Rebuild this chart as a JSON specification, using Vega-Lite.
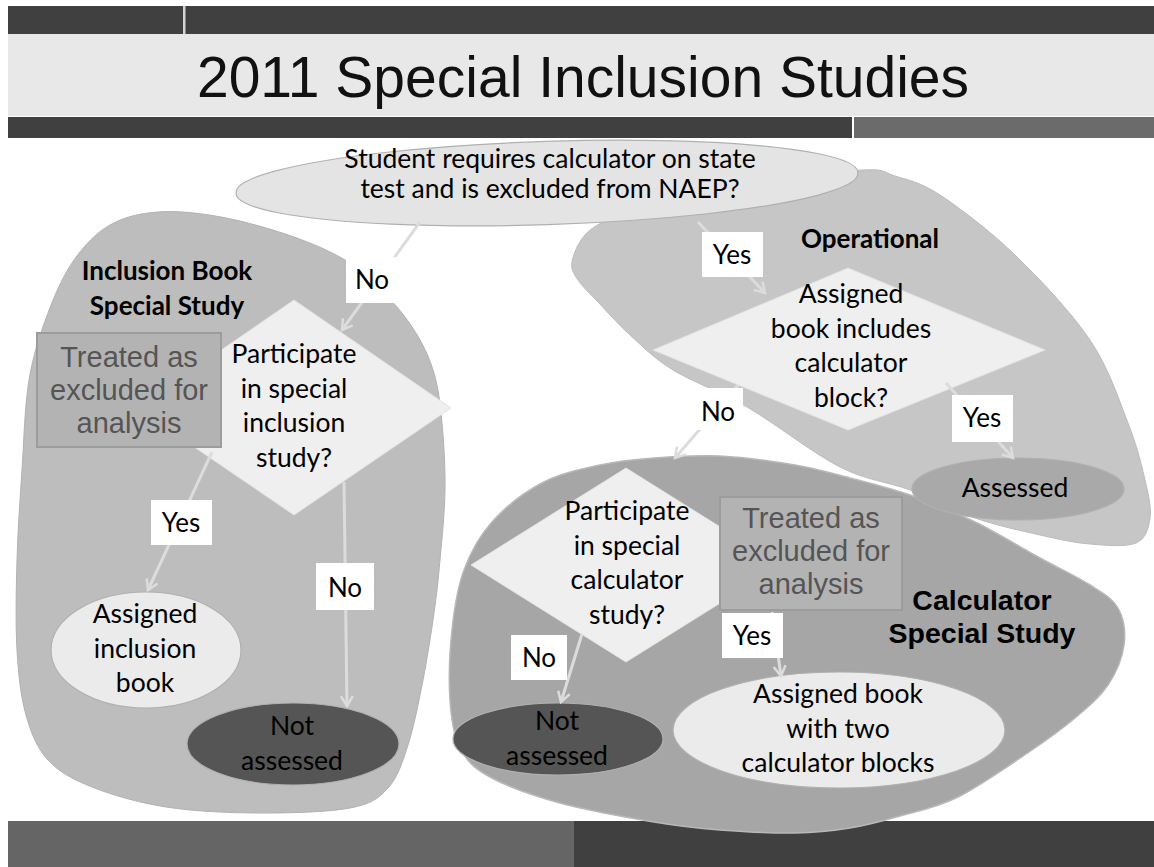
{
  "$schema": "https://vega.github.io/schema/vega-lite/v6.json",
  "width": 1154,
  "height": 867,
  "padding": 0,
  "autosize": "none",
  "background": "#ffffff",
  "config": {"view": {"stroke": null}},
  "datasets": {
    "rects": [
      {"x": 8, "x2": 1154, "y": 6, "y2": 34, "tone": "dark"},
      {"x": 183, "x2": 185.5, "y": 6, "y2": 34, "tone": "sep"},
      {"x": 8, "x2": 1154, "y": 34, "y2": 116, "tone": "band"},
      {"x": 8, "x2": 852, "y": 117, "y2": 138, "tone": "dark"},
      {"x": 854, "x2": 1154, "y": 117, "y2": 138, "tone": "mid"},
      {"x": 8, "x2": 574, "y": 821, "y2": 867, "tone": "bottom"},
      {"x": 574, "x2": 1154, "y": 821, "y2": 867, "tone": "dark"}
    ],
    "blobs": [
      {"shape": "L", "i": 0, "x": 158, "y": 212},
      {"shape": "L", "i": 1, "x": 221, "y": 217},
      {"shape": "L", "i": 2, "x": 294, "y": 237},
      {"shape": "L", "i": 3, "x": 350, "y": 263},
      {"shape": "L", "i": 4, "x": 388, "y": 297},
      {"shape": "L", "i": 5, "x": 416, "y": 333},
      {"shape": "L", "i": 6, "x": 434, "y": 373},
      {"shape": "L", "i": 7, "x": 442, "y": 423},
      {"shape": "L", "i": 8, "x": 445, "y": 490},
      {"shape": "L", "i": 9, "x": 440, "y": 560},
      {"shape": "L", "i": 10, "x": 434, "y": 613},
      {"shape": "L", "i": 11, "x": 423, "y": 680},
      {"shape": "L", "i": 12, "x": 408, "y": 745},
      {"shape": "L", "i": 13, "x": 388, "y": 788},
      {"shape": "L", "i": 14, "x": 350, "y": 808},
      {"shape": "L", "i": 15, "x": 258, "y": 813},
      {"shape": "L", "i": 16, "x": 166, "y": 807},
      {"shape": "L", "i": 17, "x": 92, "y": 787},
      {"shape": "L", "i": 18, "x": 48, "y": 760},
      {"shape": "L", "i": 19, "x": 26, "y": 715},
      {"shape": "L", "i": 20, "x": 17, "y": 650},
      {"shape": "L", "i": 21, "x": 17, "y": 560},
      {"shape": "L", "i": 22, "x": 22, "y": 470},
      {"shape": "L", "i": 23, "x": 29, "y": 380},
      {"shape": "L", "i": 24, "x": 48, "y": 313},
      {"shape": "L", "i": 25, "x": 74, "y": 260},
      {"shape": "L", "i": 26, "x": 110, "y": 225},
      {"shape": "C", "i": 0, "x": 542, "y": 483},
      {"shape": "C", "i": 1, "x": 600, "y": 465},
      {"shape": "C", "i": 2, "x": 654, "y": 458},
      {"shape": "C", "i": 3, "x": 720, "y": 456},
      {"shape": "C", "i": 4, "x": 795, "y": 465},
      {"shape": "C", "i": 5, "x": 850, "y": 478},
      {"shape": "C", "i": 6, "x": 910, "y": 495},
      {"shape": "C", "i": 7, "x": 975, "y": 522},
      {"shape": "C", "i": 8, "x": 1040, "y": 558},
      {"shape": "C", "i": 9, "x": 1090, "y": 585},
      {"shape": "C", "i": 10, "x": 1118, "y": 608},
      {"shape": "C", "i": 11, "x": 1124, "y": 645},
      {"shape": "C", "i": 12, "x": 1108, "y": 685},
      {"shape": "C", "i": 13, "x": 1075, "y": 718},
      {"shape": "C", "i": 14, "x": 1029, "y": 752},
      {"shape": "C", "i": 15, "x": 958, "y": 797},
      {"shape": "C", "i": 16, "x": 900, "y": 816},
      {"shape": "C", "i": 17, "x": 850, "y": 828},
      {"shape": "C", "i": 18, "x": 795, "y": 833},
      {"shape": "C", "i": 19, "x": 720, "y": 830},
      {"shape": "C", "i": 20, "x": 654, "y": 822},
      {"shape": "C", "i": 21, "x": 560, "y": 803},
      {"shape": "C", "i": 22, "x": 490, "y": 777},
      {"shape": "C", "i": 23, "x": 460, "y": 748},
      {"shape": "C", "i": 24, "x": 450, "y": 700},
      {"shape": "C", "i": 25, "x": 452, "y": 630},
      {"shape": "C", "i": 26, "x": 464, "y": 570},
      {"shape": "C", "i": 27, "x": 492, "y": 522},
      {"shape": "O", "i": 0, "x": 572, "y": 262},
      {"shape": "O", "i": 1, "x": 585, "y": 235},
      {"shape": "O", "i": 2, "x": 612, "y": 218},
      {"shape": "O", "i": 3, "x": 660, "y": 203},
      {"shape": "O", "i": 4, "x": 760, "y": 183},
      {"shape": "O", "i": 5, "x": 863, "y": 170},
      {"shape": "O", "i": 6, "x": 895, "y": 176},
      {"shape": "O", "i": 7, "x": 940, "y": 195},
      {"shape": "O", "i": 8, "x": 1015, "y": 255},
      {"shape": "O", "i": 9, "x": 1090, "y": 340},
      {"shape": "O", "i": 10, "x": 1128, "y": 423},
      {"shape": "O", "i": 11, "x": 1145, "y": 480},
      {"shape": "O", "i": 12, "x": 1150, "y": 518},
      {"shape": "O", "i": 13, "x": 1136, "y": 543},
      {"shape": "O", "i": 14, "x": 1090, "y": 544},
      {"shape": "O", "i": 15, "x": 1040, "y": 535},
      {"shape": "O", "i": 16, "x": 975, "y": 518},
      {"shape": "O", "i": 17, "x": 910, "y": 490},
      {"shape": "O", "i": 18, "x": 840, "y": 467},
      {"shape": "O", "i": 19, "x": 747, "y": 407},
      {"shape": "O", "i": 20, "x": 673, "y": 370},
      {"shape": "O", "i": 21, "x": 630, "y": 335},
      {"shape": "O", "i": 22, "x": 598, "y": 302},
      {"shape": "O", "i": 23, "x": 578, "y": 280}
    ],
    "diamonds": [
      {"shape": "dL", "i": 0, "x": 294, "y": 300},
      {"shape": "dL", "i": 1, "x": 451, "y": 408},
      {"shape": "dL", "i": 2, "x": 294, "y": 515},
      {"shape": "dL", "i": 3, "x": 137, "y": 408},
      {"shape": "dO", "i": 0, "x": 848, "y": 268},
      {"shape": "dO", "i": 1, "x": 1045, "y": 350},
      {"shape": "dO", "i": 2, "x": 848, "y": 430},
      {"shape": "dO", "i": 3, "x": 653, "y": 350},
      {"shape": "dC", "i": 0, "x": 626, "y": 468},
      {"shape": "dC", "i": 1, "x": 781, "y": 565},
      {"shape": "dC", "i": 2, "x": 626, "y": 662},
      {"shape": "dC", "i": 3, "x": 471, "y": 565}
    ],
    "nodes": [
      {"node": "top", "x": 547, "y": 183, "tone": "e_top"},
      {"node": "assessed", "x": 1018, "y": 489, "tone": "e_mid"},
      {"node": "book", "x": 146, "y": 650, "tone": "e_light"},
      {"node": "notL", "x": 293, "y": 744, "tone": "e_dark"},
      {"node": "notR", "x": 558, "y": 739, "tone": "e_dark"},
      {"node": "two", "x": 839, "y": 730, "tone": "e_light"}
    ],
    "boxes": [
      {"x": 37, "x2": 221, "y": 333, "y2": 447},
      {"x": 720, "x2": 902, "y": 497, "y2": 610}
    ],
    "arrows": [
      {"x": 420, "y": 222, "hx": 342, "hy": 330, "angle": 35.8},
      {"x": 698, "y": 222, "hx": 765, "hy": 293, "angle": 316.7},
      {"x": 946, "y": 383, "hx": 1013, "hy": 458, "angle": 318.2},
      {"x": 738, "y": 385, "hx": 675, "hy": 458, "angle": 40.8},
      {"x": 582, "y": 634, "hx": 561, "hy": 702, "angle": 17.2},
      {"x": 772, "y": 612, "hx": 781, "hy": 676, "angle": 352},
      {"x": 212, "y": 452, "hx": 148, "hy": 590, "angle": 24.9},
      {"x": 344, "y": 482, "hx": 347, "hy": 706, "angle": 359.2}
    ],
    "labels": [
      {"label": "No", "x": 346, "x2": 399, "y": 257, "y2": 303, "cx": 372, "by": 289},
      {"label": "Yes", "x": 702, "x2": 763, "y": 232, "y2": 277, "cx": 732, "by": 264},
      {"label": "Yes", "x": 952, "x2": 1013, "y": 395, "y2": 442, "cx": 982, "by": 427},
      {"label": "No", "x": 693, "x2": 743, "y": 388, "y2": 430, "cx": 718, "by": 421},
      {"label": "No", "x": 511, "x2": 567, "y": 635, "y2": 680, "cx": 539, "by": 667},
      {"label": "Yes", "x": 722, "x2": 783, "y": 613, "y2": 658, "cx": 752, "by": 645},
      {"label": "Yes", "x": 151, "x2": 212, "y": 500, "y2": 545, "cx": 181, "by": 532},
      {"label": "No", "x": 316, "x2": 374, "y": 563, "y2": 610, "cx": 345, "by": 597}
    ],
    "texts": [
      {"style": "top", "x": 550, "y": 168, "text": "Student requires calculator on state\ntest and is excluded from NAEP?"},
      {"style": "body", "x": 294, "y": 363, "text": "Participate\nin special\ninclusion\nstudy?"},
      {"style": "body", "x": 851, "y": 303, "text": "Assigned\nbook includes\ncalculator\nblock?"},
      {"style": "body", "x": 627, "y": 520, "text": "Participate\nin special\ncalculator\nstudy?"},
      {"style": "body", "x": 145, "y": 623, "text": "Assigned\ninclusion\nbook"},
      {"style": "body", "x": 292, "y": 735, "text": "Not\nassessed"},
      {"style": "body", "x": 557, "y": 730, "text": "Not\nassessed"},
      {"style": "body", "x": 838, "y": 703, "text": "Assigned book\nwith two\ncalculator blocks"},
      {"style": "body", "x": 1015, "y": 497, "text": "Assessed"},
      {"style": "bold", "x": 167, "y": 280, "text": "Inclusion Book\nSpecial Study"},
      {"style": "bold", "x": 870, "y": 248, "text": "Operational"},
      {"style": "arialbold", "x": 982, "y": 610, "text": "Calculator\nSpecial Study"},
      {"style": "treat", "x": 129, "y": 367, "text": "Treated as\nexcluded for\nanalysis"},
      {"style": "treat", "x": 811, "y": 528, "text": "Treated as\nexcluded for\nanalysis"},
      {"style": "title", "x": 583, "y": 97, "text": "2011 Special Inclusion Studies"}
    ]
  },
  "encoding": {
    "x": {"field": "x", "type": "quantitative", "scale": {"domain": [0, 1154], "nice": false, "zero": false}, "axis": null},
    "y": {"field": "y", "type": "quantitative", "scale": {"domain": [0, 867], "reverse": true, "nice": false, "zero": false}, "axis": null}
  },
  "layer": [
    {
      "data": {"name": "rects"},
      "mark": {"type": "rect", "strokeWidth": 0},
      "encoding": {
        "x2": {"field": "x2"},
        "y2": {"field": "y2"},
        "fill": {"field": "tone", "type": "nominal", "legend": null,
          "scale": {"domain": ["dark", "sep", "band", "mid", "bottom", "e_top", "e_mid", "e_light", "e_dark"], "range": ["#404040", "#d2d2d2", "#e8e8e8", "#6b6b6b", "#656565", "#e4e4e4", "#a9a9a9", "#ebebeb", "#555555"]}}
      }
    },
    {
      "data": {"name": "blobs"},
      "transform": [{"filter": "datum.shape === 'L'"}],
      "mark": {"type": "line", "interpolate": "cardinal-closed", "fill": "#bdbdbd", "stroke": "#b2b2b2", "strokeWidth": 1},
      "encoding": {"order": {"field": "i", "type": "quantitative"}}
    },
    {
      "data": {"name": "blobs"},
      "transform": [{"filter": "datum.shape === 'C'"}],
      "mark": {"type": "line", "interpolate": "cardinal-closed", "fill": "#a6a6a6", "stroke": "#b8b8b8", "strokeWidth": 1.5},
      "encoding": {"order": {"field": "i", "type": "quantitative"}}
    },
    {
      "data": {"name": "blobs"},
      "transform": [{"filter": "datum.shape === 'O'"}],
      "mark": {"type": "line", "interpolate": "cardinal-closed", "fill": "#c6c6c6", "stroke": "#bcbcbc", "strokeWidth": 1},
      "encoding": {"order": {"field": "i", "type": "quantitative"}}
    },
    {
      "data": {"name": "diamonds"},
      "mark": {"type": "line", "interpolate": "linear-closed", "fill": "#efefef", "stroke": "#e2e2e2", "strokeWidth": 1},
      "encoding": {
        "detail": {"field": "shape", "type": "nominal"},
        "order": {"field": "i", "type": "quantitative"}
      }
    },
    {
      "data": {"name": "nodes"},
      "mark": {"type": "point", "filled": true, "size": 4, "opacity": 1, "stroke": "#b0b0b0", "strokeWidth": 1.2},
      "encoding": {
        "shape": {"field": "node", "type": "nominal", "legend": null,
          "scale": {"domain": ["top", "assessed", "book", "notL", "notR", "two"],
            "range": [
              "M-310.8,10A311,41,-1.85,1,1,310.8,-10A311,41,-1.85,1,1,-310.8,10Z",
              "M-106,0A106,31,0,1,1,106,0A106,31,0,1,1,-106,0Z",
              "M-95,0A95,58,0,1,1,95,0A95,58,0,1,1,-95,0Z",
              "M-106,0A106,41,0,1,1,106,0A106,41,0,1,1,-106,0Z",
              "M-105,0A105,36,0,1,1,105,0A105,36,0,1,1,-105,0Z",
              "M-166,0A166,58,0,1,1,166,0A166,58,0,1,1,-166,0Z"
            ]}},
        "fill": {"field": "tone", "type": "nominal", "legend": null,
          "scale": {"domain": ["dark", "sep", "band", "mid", "bottom", "e_top", "e_mid", "e_light", "e_dark"], "range": ["#404040", "#d2d2d2", "#e8e8e8", "#6b6b6b", "#656565", "#e4e4e4", "#a9a9a9", "#ebebeb", "#555555"]}}
      }
    },
    {
      "data": {"name": "boxes"},
      "mark": {"type": "rect", "fill": "#b3b3b3", "stroke": "#9c9c9c", "strokeWidth": 2},
      "encoding": {"x2": {"field": "x2"}, "y2": {"field": "y2"}}
    },
    {
      "data": {"name": "arrows"},
      "mark": {"type": "rule", "stroke": "#dcdcdc", "strokeWidth": 3},
      "encoding": {"x2": {"field": "hx"}, "y2": {"field": "hy"}}
    },
    {
      "data": {"name": "arrows"},
      "mark": {"type": "point", "filled": false, "opacity": 1, "size": 400, "stroke": "#dcdcdc", "strokeWidth": 2.5,
        "shape": "M-0.6,-1L0,0L0.6,-1"},
      "encoding": {
        "x": {"field": "hx", "type": "quantitative"},
        "y": {"field": "hy", "type": "quantitative"},
        "angle": {"field": "angle", "type": "quantitative", "scale": null}
      }
    },
    {
      "data": {"name": "labels"},
      "mark": {"type": "rect", "fill": "#ffffff", "strokeWidth": 0},
      "encoding": {"x2": {"field": "x2"}, "y2": {"field": "y2"}}
    },
    {
      "data": {"name": "labels"},
      "mark": {"type": "text", "font": "Lato", "fontSize": 26, "color": "#000000", "align": "center", "baseline": "alphabetic"},
      "encoding": {
        "x": {"field": "cx", "type": "quantitative"},
        "y": {"field": "by", "type": "quantitative"},
        "text": {"field": "label"}
      }
    },
    {
      "data": {"name": "texts"},
      "transform": [{"filter": "datum.style === 'top'"}],
      "mark": {"type": "text", "font": "Lato", "fontSize": 26.5, "color": "#000000", "align": "center", "baseline": "alphabetic", "lineBreak": "\n", "lineHeight": 30},
      "encoding": {"text": {"field": "text"}}
    },
    {
      "data": {"name": "texts"},
      "transform": [{"filter": "datum.style === 'body'"}],
      "mark": {"type": "text", "font": "Lato", "fontSize": 26.5, "color": "#000000", "align": "center", "baseline": "alphabetic", "lineBreak": "\n", "lineHeight": 34.5},
      "encoding": {"text": {"field": "text"}}
    },
    {
      "data": {"name": "texts"},
      "transform": [{"filter": "datum.style === 'bold'"}],
      "mark": {"type": "text", "font": "Lato", "fontSize": 26, "fontWeight": "bold", "color": "#000000", "align": "center", "baseline": "alphabetic", "lineBreak": "\n", "lineHeight": 35},
      "encoding": {"text": {"field": "text"}}
    },
    {
      "data": {"name": "texts"},
      "transform": [{"filter": "datum.style === 'arialbold'"}],
      "mark": {"type": "text", "font": "Liberation Sans", "fontSize": 28.5, "fontWeight": "bold", "color": "#000000", "align": "center", "baseline": "alphabetic", "lineBreak": "\n", "lineHeight": 33},
      "encoding": {"text": {"field": "text"}}
    },
    {
      "data": {"name": "texts"},
      "transform": [{"filter": "datum.style === 'treat'"}],
      "mark": {"type": "text", "font": "Liberation Sans", "fontSize": 29, "color": "#555555", "align": "center", "baseline": "alphabetic", "lineBreak": "\n", "lineHeight": 33},
      "encoding": {"text": {"field": "text"}}
    },
    {
      "data": {"name": "texts"},
      "transform": [{"filter": "datum.style === 'title'"}],
      "mark": {"type": "text", "font": "Liberation Sans", "fontSize": 57, "color": "#111111", "align": "center", "baseline": "alphabetic"},
      "encoding": {"text": {"field": "text"}}
    }
  ]
}
